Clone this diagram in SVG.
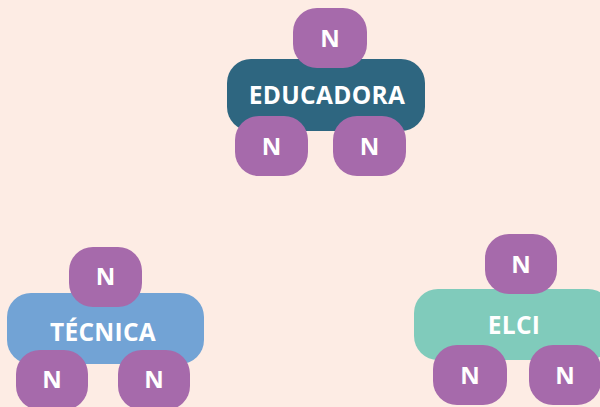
<svg xmlns="http://www.w3.org/2000/svg" width="600" height="407" viewBox="0 0 600 407">
<style>
.n rect{fill:#a66aab}
.t{font-family:"Open Sans","Liberation Sans",sans-serif;font-weight:bold;fill:#ffffff;text-anchor:middle}
.nt{font-size:24px}
.mt{font-size:24.5px;letter-spacing:0.3px}
</style>
<rect width="600" height="407" fill="#fdece4"/>
<g id="connectors"></g>
<g id="educadora"><rect x="227" y="59" width="198" height="72" rx="24" fill="#2e6680"/><text class="t mt" x="327" y="104">EDUCADORA</text></g>
<g id="educadora-n1" class="n"><rect x="293" y="8" width="74" height="60" rx="24"/><text class="t nt" x="330" y="47">N</text></g>
<g id="educadora-n2" class="n"><rect x="235" y="116" width="73" height="60" rx="24"/><text class="t nt" x="271.5" y="155">N</text></g>
<g id="educadora-n3" class="n"><rect x="333" y="116" width="73" height="60" rx="24"/><text class="t nt" x="369.5" y="155">N</text></g>
<g id="tecnica"><rect x="7" y="293" width="197" height="71" rx="24" fill="#72a3d5"/><text class="t mt" x="103" y="341">TÉCNICA</text></g>
<g id="tecnica-n1" class="n"><rect x="69" y="247" width="73" height="60" rx="24"/><text class="t nt" x="105.5" y="285">N</text></g>
<g id="tecnica-n2" class="n"><rect x="16" y="350" width="72" height="60" rx="24"/><text class="t nt" x="52" y="388">N</text></g>
<g id="tecnica-n3" class="n"><rect x="118" y="350" width="72" height="60" rx="24"/><text class="t nt" x="154" y="388">N</text></g>
<g id="elci"><rect x="414" y="289" width="198" height="71" rx="24" fill="#80cbbb"/><text class="t mt" x="514" y="334">ELCI</text></g>
<g id="elci-n1" class="n"><rect x="485" y="234" width="72" height="60" rx="24"/><text class="t nt" x="521" y="273">N</text></g>
<g id="elci-n2" class="n"><rect x="433" y="345" width="74" height="60" rx="24"/><text class="t nt" x="470" y="384">N</text></g>
<g id="elci-n3" class="n"><rect x="529" y="345" width="72" height="60" rx="24"/><text class="t nt" x="565" y="384">N</text></g>
</svg>
